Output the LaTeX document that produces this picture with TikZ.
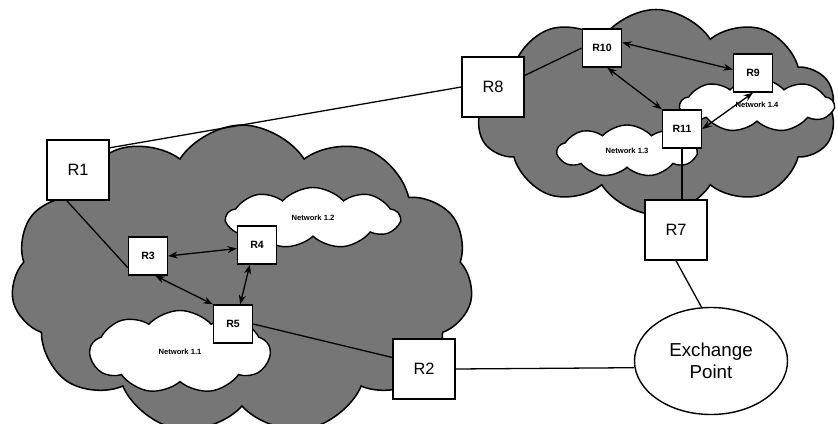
\documentclass[tikz,border=0pt]{standalone}
\usepackage{fontspec}
\setmainfont{Liberation Sans}
\usepackage{xcolor}
\definecolor{netgray}{HTML}{767676}
\usetikzlibrary{shapes.geometric, shapes.symbols, arrows.meta, positioning}

\begin{document}
\begin{tikzpicture}[
        x=0.03cm, y=-0.03cm,
        as_cloud/.style={
            cloud,
            cloud ignores aspect,
            cloud puff arc=115,
            draw=black,
            line width=1.3pt,
            fill=netgray,
            inner sep=0pt
        },
        net_cloud/.style={
            cloud,
            cloud ignores aspect,
            cloud puffs=9,
            cloud puff arc=95,
            draw=black,
            line width=1.2pt,
            fill=white,
            inner sep=0pt,
            font=\bfseries\fontsize{6.5}{7}\selectfont
        },
        big_router/.style={
            rectangle,
            draw=black,
            line width=1.2pt,
            fill=white,
            minimum width=1.86cm,
            minimum height=1.8cm,
            inner sep=0pt,
            font=\fontsize{14}{16}\selectfont
        },
        small_router/.style={
            rectangle,
            draw=black,
            line width=1.2pt,
            fill=white,
            minimum width=1.17cm,
            minimum height=1.14cm,
            inner sep=0pt,
            font=\bfseries\fontsize{9}{10}\selectfont
        },
        link/.style={
            draw=black,
            line width=1.1pt
        },
        duplex/.style={
            {Stealth[length=8pt, width=6pt]}-{Stealth[length=8pt, width=6pt]},
            draw=black,
            line width=1.1pt
        }
    ]

    \clip (0,0) rectangle (838,424);

    % Autonomous systems
    \node[as_cloud, cloud puffs=11, minimum width=13.86cm, minimum height=9.3cm] (as1) at (242,280) {};
    \node[as_cloud, cloud puffs=10, minimum width=10.8cm, minimum height=6.15cm] (as2) at (656,112) {};

    % Internal networks
    \node[net_cloud, minimum width=5.19cm, minimum height=1.83cm] (net12) at (313,218) {Network 1.2};
    \node[net_cloud, minimum width=5.4cm, minimum height=2.49cm] (net11) at (180,352) {Network 1.1};
    \node[net_cloud, minimum width=4.17cm, minimum height=1.56cm] (net13) at (627,151) {Network 1.3};
    \node[net_cloud, minimum width=4.59cm, minimum height=1.62cm] (net14) at (757,105) {Network 1.4};

    % Border routers
    \node[big_router] (R1) at (78,170) {R1};
    \node[big_router] (R2) at (424,369) {R2};
    \node[big_router] (R8) at (493,87) {R8};
    \node[big_router] (R7) at (676,230) {R7};

    % Inner routers
    \node[small_router] (R3) at (148,256) {R3};
    \node[small_router] (R4) at (257,245) {R4};
    \node[small_router] (R5) at (233,324) {R5};
    \node[small_router] (R10) at (602,48) {R10};
    \node[small_router] (R9) at (753,73) {R9};
    \node[small_router] (R11) at (682,129) {R11};

    % Exchange point
    \node[ellipse, draw=black, line width=1.2pt, fill=white, minimum width=4.59cm, minimum height=3.21cm, inner sep=0pt, align=center, font=\fontsize{16}{19}\selectfont] (ep) at (711,361) {Exchange\\Point};

    % Links
    \draw[link] (R1.35) -- (R8.west);
    \draw[link] (R1.250) -- (R3.210);
    \draw[link] (R5.east) -- (R2.160);
    \draw[link] (R2.east) -- (ep.185);
    \draw[link] (R7.south) -- (ep.100);
    \draw[link] (R11.south) -- (R11.south |- R7.north);
    \draw[link] (R8.20) -- (R10.west);

    \draw[duplex] (R3.east) -- (R4.190);
    \draw[duplex] (R4.-110) -- (R5.70);
    \draw[duplex] (R3.-70) -- (R5.north west);
    \draw[duplex] (R10.15) -- (R9.170);
    \draw[duplex] (R10.-75) -- (R11.north west);
    \draw[duplex] (R11.east) -- (R9.south);

\end{tikzpicture}
\end{document}
